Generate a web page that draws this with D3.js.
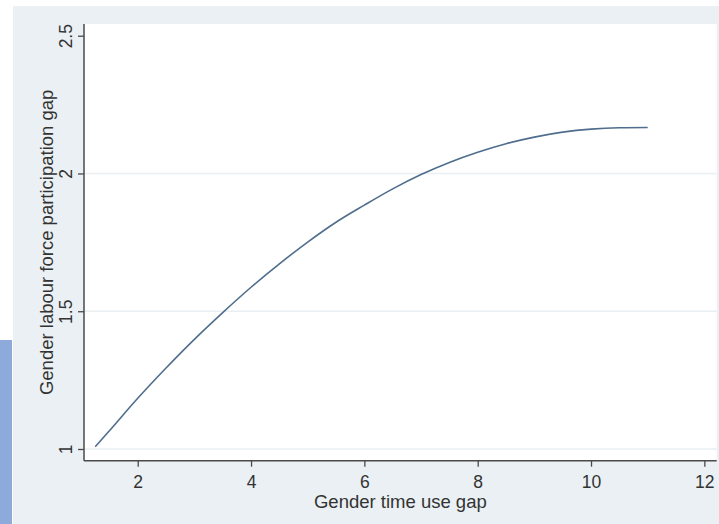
<!DOCTYPE html>
<html>
<head>
<meta charset="utf-8">
<script src="https://cdn.jsdelivr.net/npm/d3@7"></script>
<style>
  body { margin: 0; background: #ffffff; }
  .canvas { width: 719px; height: 524px; }
</style>
</head>
<body>
<div class="canvas"></div>
<script>
// values
const timeGap = [1.25, 1.5, 2, 2.5, 3, 3.5, 4, 4.5, 5, 5.5, 6, 6.5, 7, 7.5, 8, 8.5, 9, 9.5, 10, 10.5, 11];
const labourGap = [1.008, 1.066, 1.184, 1.294, 1.398, 1.495, 1.587, 1.672, 1.751, 1.823, 1.885, 1.944, 1.996, 2.040, 2.077, 2.108, 2.132, 2.150, 2.161, 2.166, 2.167];

const xTicks = [2, 4, 6, 8, 10, 12];
const yTicks = [1, 1.5, 2, 2.5];
const gridTicks = [1, 1.5, 2];

const xTitle = 'Gender time use gap';
const yTitle = 'Gender labour force participation gap';

const data = timeGap.map((t, i) => ({ x: t, y: labourGap[i] }));

const dims = {
  width: 719,
  height: 524,
  left: 84,
  right: 716.7,
  top: 24,
  bottom: 460.7,
  fontFamily: '"Liberation Sans", Arial, sans-serif',
  tickSize: '17.5px',
  titleSize: '18.5px'
};

const svg = d3
  .select('.canvas')
  .append('svg')
  .attr('width', dims.width)
  .attr('height', dims.height);

// outer grey panel and the blue strip on the left
svg.append('rect')
  .attr('x', 13).attr('y', 6)
  .attr('width', dims.width - 13).attr('height', dims.height - 6)
  .attr('fill', '#eaf0f3');

svg.append('rect')
  .attr('x', 0).attr('y', 340)
  .attr('width', 12).attr('height', dims.height - 340)
  .attr('fill', '#8eaadb');

// plot region
svg.append('rect')
  .attr('x', dims.left).attr('y', dims.top)
  .attr('width', dims.right - dims.left).attr('height', dims.bottom - dims.top)
  .attr('fill', '#ffffff');

// scales
const x = d3.scaleLinear().domain([1.052, 12.218]).range([dims.left, dims.right]);
const y = d3.scaleLinear().domain([0.9575, 2.5425]).range([dims.bottom, dims.top]);

// gridlines
svg.append('g')
  .selectAll('line')
  .data(gridTicks)
  .enter()
  .append('line')
  .attr('x1', dims.left)
  .attr('x2', dims.right)
  .attr('y1', (d) => y(d))
  .attr('y2', (d) => y(d))
  .attr('stroke', '#e9eff2')
  .attr('stroke-width', 1.5);

// axes
const xAxis = d3.axisBottom(x).tickValues(xTicks).tickSize(6).tickFormat(d3.format('d'));
const yAxis = d3.axisLeft(y).tickValues(yTicks).tickSize(6).tickFormat((d) => d);

const xAxisGroup = svg.append('g')
  .attr('transform', `translate(0, ${dims.bottom})`)
  .call(xAxis);

const yAxisGroup = svg.append('g')
  .attr('transform', `translate(${dims.left}, 0)`)
  .call(yAxis);

xAxisGroup.select('path.domain')
  .attr('d', `M${dims.left},0H${dims.right}`)
  .attr('stroke', '#4a4a4a')
  .attr('stroke-width', 1.5);
yAxisGroup.select('path.domain')
  .attr('d', `M0,${dims.top}V${dims.bottom}`)
  .attr('stroke', '#4a4a4a')
  .attr('stroke-width', 1.5);

svg.selectAll('.tick line').attr('stroke', '#4a4a4a').attr('stroke-width', 1.3);

xAxisGroup.selectAll('text')
  .attr('fill', '#333333')
  .attr('font-family', dims.fontFamily)
  .attr('font-size', dims.tickSize)
  .attr('dy', null)
  .attr('y', 27);

yAxisGroup.selectAll('text')
  .attr('fill', '#333333')
  .attr('font-family', dims.fontFamily)
  .attr('font-size', dims.tickSize)
  .attr('x', null)
  .attr('dy', null)
  .attr('text-anchor', 'middle')
  .attr('transform', 'translate(-12.5, 0) rotate(-90)');

// axis titles
svg.append('text')
  .attr('x', (dims.left + dims.right) / 2)
  .attr('y', 507.5)
  .attr('text-anchor', 'middle')
  .attr('fill', '#333333')
  .attr('font-family', dims.fontFamily)
  .attr('font-size', dims.titleSize)
  .text(xTitle);

svg.append('text')
  .attr('transform', `translate(53, ${(dims.top + dims.bottom) / 2}) rotate(-90)`)
  .attr('text-anchor', 'middle')
  .attr('fill', '#333333')
  .attr('font-family', dims.fontFamily)
  .attr('font-size', dims.titleSize)
  .text(yTitle);

// fitted line
const line = d3.line()
  .x((d) => x(d.x))
  .y((d) => y(d.y))
  .curve(d3.curveMonotoneX);

svg.append('path')
  .datum(data)
  .attr('d', line)
  .attr('fill', 'none')
  .attr('stroke', '#4f6d8c')
  .attr('stroke-width', 1.6);
</script>
</body>
</html>
